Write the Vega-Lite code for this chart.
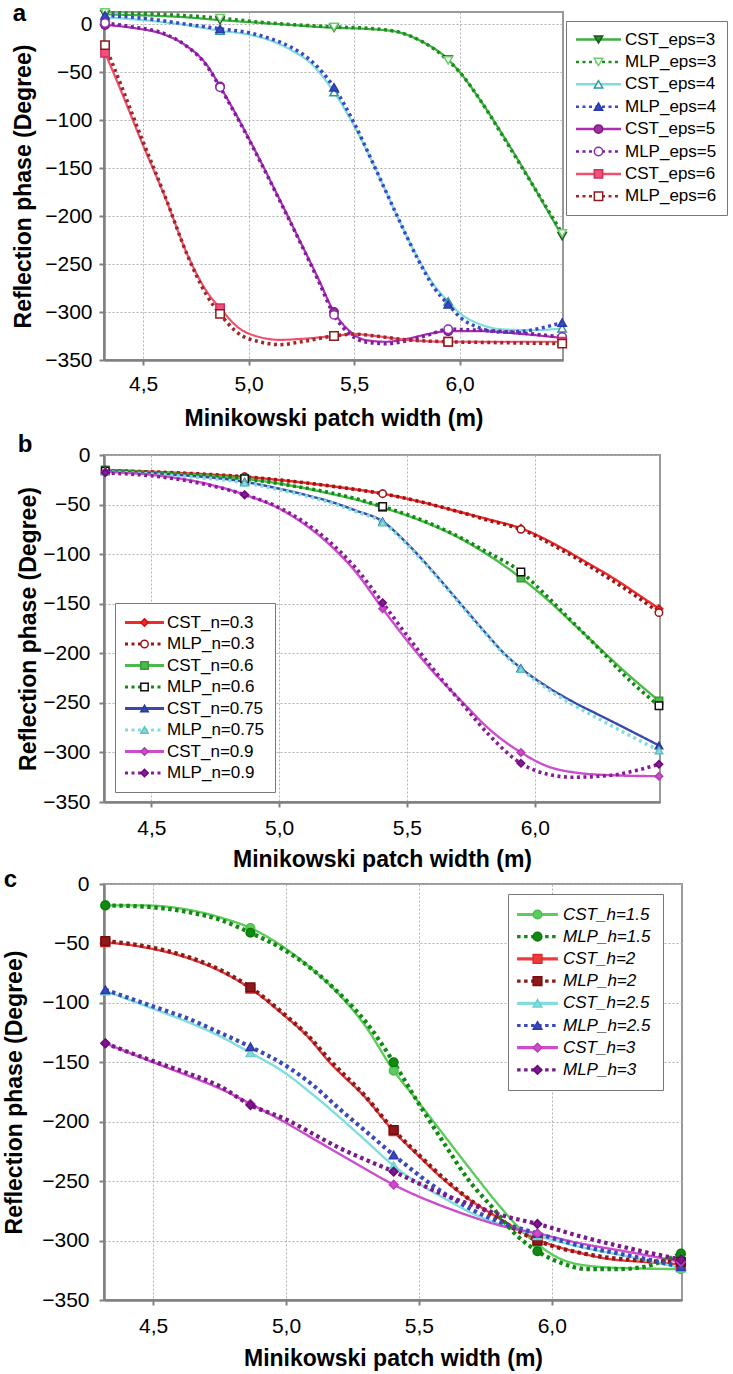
{
  "$schema": "https://vega.github.io/schema/vega-lite/v6.json",
  "padding": {"left": 2, "top": 1, "right": 0, "bottom": 0},
  "background": "white",
  "spacing": 1,
  "resolve": {"scale": {"color": "independent", "strokeDash": "independent", "shape": "independent", "fill": "independent", "stroke": "independent"}},
  "config": {
    "font": "Liberation Sans",
    "view": {"stroke": "#999", "strokeWidth": 2},
    "axis": {"labelFont": "Liberation Sans", "labelFontSize": 21, "labelColor": "#000", "titleFont": "Liberation Sans", "titleFontSize": 23, "titleFontWeight": "bold", "titleColor": "#000", "domainColor": "#808080", "domainWidth": 2.5, "tickColor": "#808080", "tickWidth": 2, "tickSize": 5, "gridColor": "#b0b0b0", "gridDash": [2, 2], "gridWidth": 1, "labelFlush": false, "labelOverlap": false, "labelBound": false},
    "legend": {"labelFont": "Liberation Sans", "labelColor": "#000"},
    "title": {"font": "Liberation Sans", "fontSize": 24, "fontWeight": "bold", "color": "#000"}
  },
  "datasets": {
    "A": [
      {"s":"CST_eps=3","x":4.32,"y":10,"m":1},{"s":"CST_eps=3","x":4.5,"y":9,"m":0},{"s":"CST_eps=3","x":4.7,"y":7,"m":0},{"s":"CST_eps=3","x":4.865,"y":4,"m":1},{"s":"CST_eps=3","x":5.0,"y":2,"m":0},{"s":"CST_eps=3","x":5.2,"y":-1,"m":0},{"s":"CST_eps=3","x":5.405,"y":-4,"m":1},{"s":"CST_eps=3","x":5.55,"y":-5,"m":0},{"s":"CST_eps=3","x":5.7,"y":-8,"m":0},{"s":"CST_eps=3","x":5.81,"y":-17,"m":0},{"s":"CST_eps=3","x":5.946,"y":-37,"m":1},{"s":"CST_eps=3","x":6.0,"y":-50,"m":0},{"s":"CST_eps=3","x":6.1,"y":-80,"m":0},{"s":"CST_eps=3","x":6.2,"y":-114,"m":0},{"s":"CST_eps=3","x":6.3,"y":-150,"m":0},{"s":"CST_eps=3","x":6.4,"y":-188,"m":0},{"s":"CST_eps=3","x":6.486,"y":-221,"m":1},
      {"s":"MLP_eps=3","x":4.32,"y":12,"m":1},{"s":"MLP_eps=3","x":4.6,"y":10,"m":0},{"s":"MLP_eps=3","x":4.865,"y":6,"m":1},{"s":"MLP_eps=3","x":5.1,"y":1,"m":0},{"s":"MLP_eps=3","x":5.405,"y":-3,"m":1},{"s":"MLP_eps=3","x":5.6,"y":-5,"m":0},{"s":"MLP_eps=3","x":5.72,"y":-9,"m":0},{"s":"MLP_eps=3","x":5.82,"y":-18,"m":0},{"s":"MLP_eps=3","x":5.946,"y":-38,"m":1},{"s":"MLP_eps=3","x":6.0,"y":-50,"m":0},{"s":"MLP_eps=3","x":6.1,"y":-80,"m":0},{"s":"MLP_eps=3","x":6.2,"y":-115,"m":0},{"s":"MLP_eps=3","x":6.3,"y":-151,"m":0},{"s":"MLP_eps=3","x":6.4,"y":-187,"m":0},{"s":"MLP_eps=3","x":6.486,"y":-218,"m":1},
      {"s":"CST_eps=4","x":4.32,"y":7,"m":1},{"s":"CST_eps=4","x":4.5,"y":4,"m":0},{"s":"CST_eps=4","x":4.7,"y":-1,"m":0},{"s":"CST_eps=4","x":4.865,"y":-7,"m":1},{"s":"CST_eps=4","x":5.0,"y":-11,"m":0},{"s":"CST_eps=4","x":5.1,"y":-17,"m":0},{"s":"CST_eps=4","x":5.2,"y":-27,"m":0},{"s":"CST_eps=4","x":5.3,"y":-42,"m":0},{"s":"CST_eps=4","x":5.405,"y":-71,"m":1},{"s":"CST_eps=4","x":5.5,"y":-106,"m":0},{"s":"CST_eps=4","x":5.6,"y":-150,"m":0},{"s":"CST_eps=4","x":5.7,"y":-198,"m":0},{"s":"CST_eps=4","x":5.8,"y":-243,"m":0},{"s":"CST_eps=4","x":5.88,"y":-272,"m":0},{"s":"CST_eps=4","x":5.946,"y":-289,"m":1},{"s":"CST_eps=4","x":6.0,"y":-301,"m":0},{"s":"CST_eps=4","x":6.1,"y":-313,"m":0},{"s":"CST_eps=4","x":6.2,"y":-318,"m":0},{"s":"CST_eps=4","x":6.35,"y":-319,"m":0},{"s":"CST_eps=4","x":6.486,"y":-317,"m":1},
      {"s":"MLP_eps=4","x":4.32,"y":9,"m":1},{"s":"MLP_eps=4","x":4.5,"y":6,"m":0},{"s":"MLP_eps=4","x":4.7,"y":0,"m":0},{"s":"MLP_eps=4","x":4.865,"y":-5,"m":1},{"s":"MLP_eps=4","x":5.0,"y":-9,"m":0},{"s":"MLP_eps=4","x":5.1,"y":-15,"m":0},{"s":"MLP_eps=4","x":5.2,"y":-24,"m":0},{"s":"MLP_eps=4","x":5.3,"y":-39,"m":0},{"s":"MLP_eps=4","x":5.405,"y":-66,"m":1},{"s":"MLP_eps=4","x":5.5,"y":-103,"m":0},{"s":"MLP_eps=4","x":5.6,"y":-150,"m":0},{"s":"MLP_eps=4","x":5.7,"y":-198,"m":0},{"s":"MLP_eps=4","x":5.8,"y":-244,"m":0},{"s":"MLP_eps=4","x":5.88,"y":-275,"m":0},{"s":"MLP_eps=4","x":5.946,"y":-292,"m":1},{"s":"MLP_eps=4","x":6.0,"y":-305,"m":0},{"s":"MLP_eps=4","x":6.1,"y":-317,"m":0},{"s":"MLP_eps=4","x":6.2,"y":-321,"m":0},{"s":"MLP_eps=4","x":6.3,"y":-320,"m":0},{"s":"MLP_eps=4","x":6.4,"y":-316,"m":0},{"s":"MLP_eps=4","x":6.486,"y":-311,"m":1},
      {"s":"CST_eps=5","x":4.32,"y":-1,"m":1},{"s":"CST_eps=5","x":4.45,"y":-4,"m":0},{"s":"CST_eps=5","x":4.6,"y":-11,"m":0},{"s":"CST_eps=5","x":4.7,"y":-22,"m":0},{"s":"CST_eps=5","x":4.8,"y":-42,"m":0},{"s":"CST_eps=5","x":4.865,"y":-65,"m":1},{"s":"CST_eps=5","x":4.95,"y":-98,"m":0},{"s":"CST_eps=5","x":5.05,"y":-140,"m":0},{"s":"CST_eps=5","x":5.15,"y":-184,"m":0},{"s":"CST_eps=5","x":5.25,"y":-229,"m":0},{"s":"CST_eps=5","x":5.33,"y":-265,"m":0},{"s":"CST_eps=5","x":5.405,"y":-300,"m":1},{"s":"CST_eps=5","x":5.48,"y":-320,"m":0},{"s":"CST_eps=5","x":5.55,"y":-329,"m":0},{"s":"CST_eps=5","x":5.65,"y":-331,"m":0},{"s":"CST_eps=5","x":5.75,"y":-328,"m":0},{"s":"CST_eps=5","x":5.85,"y":-323,"m":0},{"s":"CST_eps=5","x":5.946,"y":-320,"m":1},{"s":"CST_eps=5","x":6.1,"y":-320,"m":0},{"s":"CST_eps=5","x":6.3,"y":-323,"m":0},{"s":"CST_eps=5","x":6.486,"y":-327,"m":1},
      {"s":"MLP_eps=5","x":4.32,"y":1,"m":1},{"s":"MLP_eps=5","x":4.45,"y":-3,"m":0},{"s":"MLP_eps=5","x":4.6,"y":-10,"m":0},{"s":"MLP_eps=5","x":4.7,"y":-22,"m":0},{"s":"MLP_eps=5","x":4.8,"y":-43,"m":0},{"s":"MLP_eps=5","x":4.865,"y":-66,"m":1},{"s":"MLP_eps=5","x":4.95,"y":-99,"m":0},{"s":"MLP_eps=5","x":5.05,"y":-141,"m":0},{"s":"MLP_eps=5","x":5.15,"y":-185,"m":0},{"s":"MLP_eps=5","x":5.25,"y":-230,"m":0},{"s":"MLP_eps=5","x":5.33,"y":-267,"m":0},{"s":"MLP_eps=5","x":5.405,"y":-303,"m":1},{"s":"MLP_eps=5","x":5.48,"y":-323,"m":0},{"s":"MLP_eps=5","x":5.55,"y":-331,"m":0},{"s":"MLP_eps=5","x":5.65,"y":-333,"m":0},{"s":"MLP_eps=5","x":5.75,"y":-330,"m":0},{"s":"MLP_eps=5","x":5.85,"y":-324,"m":0},{"s":"MLP_eps=5","x":5.946,"y":-318,"m":1},{"s":"MLP_eps=5","x":6.1,"y":-319,"m":0},{"s":"MLP_eps=5","x":6.3,"y":-322,"m":0},{"s":"MLP_eps=5","x":6.486,"y":-326,"m":1},
      {"s":"CST_eps=6","x":4.32,"y":-30,"m":1},{"s":"CST_eps=6","x":4.4,"y":-72,"m":0},{"s":"CST_eps=6","x":4.49,"y":-121,"m":0},{"s":"CST_eps=6","x":4.6,"y":-178,"m":0},{"s":"CST_eps=6","x":4.72,"y":-245,"m":0},{"s":"CST_eps=6","x":4.8,"y":-278,"m":0},{"s":"CST_eps=6","x":4.865,"y":-296,"m":1},{"s":"CST_eps=6","x":4.95,"y":-316,"m":0},{"s":"CST_eps=6","x":5.05,"y":-326,"m":0},{"s":"CST_eps=6","x":5.15,"y":-329,"m":0},{"s":"CST_eps=6","x":5.25,"y":-328,"m":0},{"s":"CST_eps=6","x":5.405,"y":-325,"m":1},{"s":"CST_eps=6","x":5.5,"y":-323,"m":0},{"s":"CST_eps=6","x":5.6,"y":-325,"m":0},{"s":"CST_eps=6","x":5.75,"y":-329,"m":0},{"s":"CST_eps=6","x":5.946,"y":-331,"m":1},{"s":"CST_eps=6","x":6.2,"y":-331,"m":0},{"s":"CST_eps=6","x":6.486,"y":-331,"m":1},
      {"s":"MLP_eps=6","x":4.32,"y":-22,"m":1},{"s":"MLP_eps=6","x":4.4,"y":-66,"m":0},{"s":"MLP_eps=6","x":4.49,"y":-117,"m":0},{"s":"MLP_eps=6","x":4.6,"y":-177,"m":0},{"s":"MLP_eps=6","x":4.72,"y":-246,"m":0},{"s":"MLP_eps=6","x":4.8,"y":-282,"m":0},{"s":"MLP_eps=6","x":4.865,"y":-302,"m":1},{"s":"MLP_eps=6","x":4.95,"y":-322,"m":0},{"s":"MLP_eps=6","x":5.05,"y":-331,"m":0},{"s":"MLP_eps=6","x":5.15,"y":-334,"m":0},{"s":"MLP_eps=6","x":5.25,"y":-331,"m":0},{"s":"MLP_eps=6","x":5.405,"y":-325,"m":1},{"s":"MLP_eps=6","x":5.5,"y":-323,"m":0},{"s":"MLP_eps=6","x":5.6,"y":-325,"m":0},{"s":"MLP_eps=6","x":5.75,"y":-329,"m":0},{"s":"MLP_eps=6","x":5.946,"y":-331,"m":1},{"s":"MLP_eps=6","x":6.2,"y":-332,"m":0},{"s":"MLP_eps=6","x":6.486,"y":-333,"m":1}
    ],
    "B": [
      {"s":"CST_n=0.3","x":4.32,"y":-15,"m":1},{"s":"CST_n=0.3","x":4.6,"y":-18,"m":0},{"s":"CST_n=0.3","x":4.865,"y":-22,"m":1},{"s":"CST_n=0.3","x":5.1,"y":-28,"m":0},{"s":"CST_n=0.3","x":5.25,"y":-33,"m":0},{"s":"CST_n=0.3","x":5.405,"y":-39,"m":1},{"s":"CST_n=0.3","x":5.55,"y":-47,"m":0},{"s":"CST_n=0.3","x":5.7,"y":-57,"m":0},{"s":"CST_n=0.3","x":5.82,"y":-65,"m":0},{"s":"CST_n=0.3","x":5.946,"y":-74,"m":1},{"s":"CST_n=0.3","x":6.1,"y":-93,"m":0},{"s":"CST_n=0.3","x":6.2,"y":-108,"m":0},{"s":"CST_n=0.3","x":6.3,"y":-123,"m":0},{"s":"CST_n=0.3","x":6.4,"y":-140,"m":0},{"s":"CST_n=0.3","x":6.486,"y":-155,"m":1},
      {"s":"MLP_n=0.3","x":4.32,"y":-16,"m":1},{"s":"MLP_n=0.3","x":4.6,"y":-18,"m":0},{"s":"MLP_n=0.3","x":4.865,"y":-22,"m":1},{"s":"MLP_n=0.3","x":5.1,"y":-28,"m":0},{"s":"MLP_n=0.3","x":5.25,"y":-33,"m":0},{"s":"MLP_n=0.3","x":5.405,"y":-39,"m":1},{"s":"MLP_n=0.3","x":5.55,"y":-47,"m":0},{"s":"MLP_n=0.3","x":5.7,"y":-57,"m":0},{"s":"MLP_n=0.3","x":5.82,"y":-66,"m":0},{"s":"MLP_n=0.3","x":5.946,"y":-75,"m":1},{"s":"MLP_n=0.3","x":6.1,"y":-95,"m":0},{"s":"MLP_n=0.3","x":6.2,"y":-110,"m":0},{"s":"MLP_n=0.3","x":6.3,"y":-126,"m":0},{"s":"MLP_n=0.3","x":6.4,"y":-143,"m":0},{"s":"MLP_n=0.3","x":6.486,"y":-159,"m":1},
      {"s":"CST_n=0.6","x":4.32,"y":-15,"m":1},{"s":"CST_n=0.6","x":4.6,"y":-19,"m":0},{"s":"CST_n=0.6","x":4.865,"y":-24,"m":1},{"s":"CST_n=0.6","x":5.05,"y":-31,"m":0},{"s":"CST_n=0.6","x":5.2,"y":-39,"m":0},{"s":"CST_n=0.6","x":5.3,"y":-45,"m":0},{"s":"CST_n=0.6","x":5.405,"y":-53,"m":1},{"s":"CST_n=0.6","x":5.5,"y":-61,"m":0},{"s":"CST_n=0.6","x":5.6,"y":-71,"m":0},{"s":"CST_n=0.6","x":5.7,"y":-83,"m":0},{"s":"CST_n=0.6","x":5.8,"y":-98,"m":0},{"s":"CST_n=0.6","x":5.946,"y":-124,"m":1},{"s":"CST_n=0.6","x":6.05,"y":-146,"m":0},{"s":"CST_n=0.6","x":6.15,"y":-170,"m":0},{"s":"CST_n=0.6","x":6.25,"y":-194,"m":0},{"s":"CST_n=0.6","x":6.35,"y":-218,"m":0},{"s":"CST_n=0.6","x":6.486,"y":-248,"m":1},
      {"s":"MLP_n=0.6","x":4.32,"y":-16,"m":1},{"s":"MLP_n=0.6","x":4.6,"y":-19,"m":0},{"s":"MLP_n=0.6","x":4.865,"y":-24,"m":1},{"s":"MLP_n=0.6","x":5.05,"y":-31,"m":0},{"s":"MLP_n=0.6","x":5.2,"y":-38,"m":0},{"s":"MLP_n=0.6","x":5.3,"y":-44,"m":0},{"s":"MLP_n=0.6","x":5.405,"y":-52,"m":1},{"s":"MLP_n=0.6","x":5.5,"y":-60,"m":0},{"s":"MLP_n=0.6","x":5.6,"y":-70,"m":0},{"s":"MLP_n=0.6","x":5.7,"y":-82,"m":0},{"s":"MLP_n=0.6","x":5.8,"y":-96,"m":0},{"s":"MLP_n=0.6","x":5.946,"y":-118,"m":1},{"s":"MLP_n=0.6","x":6.05,"y":-143,"m":0},{"s":"MLP_n=0.6","x":6.15,"y":-169,"m":0},{"s":"MLP_n=0.6","x":6.25,"y":-195,"m":0},{"s":"MLP_n=0.6","x":6.35,"y":-222,"m":0},{"s":"MLP_n=0.6","x":6.486,"y":-253,"m":1},
      {"s":"CST_n=0.75","x":4.32,"y":-16,"m":1},{"s":"CST_n=0.75","x":4.6,"y":-20,"m":0},{"s":"CST_n=0.75","x":4.865,"y":-27,"m":1},{"s":"CST_n=0.75","x":5.0,"y":-34,"m":0},{"s":"CST_n=0.75","x":5.1,"y":-40,"m":0},{"s":"CST_n=0.75","x":5.2,"y":-47,"m":0},{"s":"CST_n=0.75","x":5.3,"y":-56,"m":0},{"s":"CST_n=0.75","x":5.405,"y":-67,"m":1},{"s":"CST_n=0.75","x":5.5,"y":-89,"m":0},{"s":"CST_n=0.75","x":5.6,"y":-117,"m":0},{"s":"CST_n=0.75","x":5.7,"y":-147,"m":0},{"s":"CST_n=0.75","x":5.8,"y":-177,"m":0},{"s":"CST_n=0.75","x":5.88,"y":-200,"m":0},{"s":"CST_n=0.75","x":5.946,"y":-215,"m":1},{"s":"CST_n=0.75","x":6.05,"y":-234,"m":0},{"s":"CST_n=0.75","x":6.15,"y":-249,"m":0},{"s":"CST_n=0.75","x":6.25,"y":-262,"m":0},{"s":"CST_n=0.75","x":6.35,"y":-275,"m":0},{"s":"CST_n=0.75","x":6.486,"y":-293,"m":1},
      {"s":"MLP_n=0.75","x":4.32,"y":-17,"m":1},{"s":"MLP_n=0.75","x":4.6,"y":-21,"m":0},{"s":"MLP_n=0.75","x":4.865,"y":-28,"m":1},{"s":"MLP_n=0.75","x":5.0,"y":-35,"m":0},{"s":"MLP_n=0.75","x":5.1,"y":-41,"m":0},{"s":"MLP_n=0.75","x":5.2,"y":-48,"m":0},{"s":"MLP_n=0.75","x":5.3,"y":-57,"m":0},{"s":"MLP_n=0.75","x":5.405,"y":-68,"m":1},{"s":"MLP_n=0.75","x":5.5,"y":-90,"m":0},{"s":"MLP_n=0.75","x":5.6,"y":-118,"m":0},{"s":"MLP_n=0.75","x":5.7,"y":-148,"m":0},{"s":"MLP_n=0.75","x":5.8,"y":-178,"m":0},{"s":"MLP_n=0.75","x":5.88,"y":-201,"m":0},{"s":"MLP_n=0.75","x":5.946,"y":-216,"m":1},{"s":"MLP_n=0.75","x":6.05,"y":-236,"m":0},{"s":"MLP_n=0.75","x":6.15,"y":-252,"m":0},{"s":"MLP_n=0.75","x":6.25,"y":-266,"m":0},{"s":"MLP_n=0.75","x":6.35,"y":-280,"m":0},{"s":"MLP_n=0.75","x":6.486,"y":-298,"m":1},
      {"s":"CST_n=0.9","x":4.32,"y":-17,"m":1},{"s":"CST_n=0.9","x":4.5,"y":-20,"m":0},{"s":"CST_n=0.9","x":4.7,"y":-28,"m":0},{"s":"CST_n=0.9","x":4.865,"y":-40,"m":1},{"s":"CST_n=0.9","x":5.0,"y":-54,"m":0},{"s":"CST_n=0.9","x":5.1,"y":-70,"m":0},{"s":"CST_n=0.9","x":5.2,"y":-91,"m":0},{"s":"CST_n=0.9","x":5.3,"y":-118,"m":0},{"s":"CST_n=0.9","x":5.405,"y":-155,"m":1},{"s":"CST_n=0.9","x":5.5,"y":-187,"m":0},{"s":"CST_n=0.9","x":5.6,"y":-218,"m":0},{"s":"CST_n=0.9","x":5.72,"y":-250,"m":0},{"s":"CST_n=0.9","x":5.82,"y":-276,"m":0},{"s":"CST_n=0.9","x":5.946,"y":-300,"m":1},{"s":"CST_n=0.9","x":6.05,"y":-314,"m":0},{"s":"CST_n=0.9","x":6.15,"y":-320,"m":0},{"s":"CST_n=0.9","x":6.3,"y":-323,"m":0},{"s":"CST_n=0.9","x":6.486,"y":-324,"m":1},
      {"s":"MLP_n=0.9","x":4.32,"y":-18,"m":1},{"s":"MLP_n=0.9","x":4.5,"y":-21,"m":0},{"s":"MLP_n=0.9","x":4.7,"y":-29,"m":0},{"s":"MLP_n=0.9","x":4.865,"y":-40,"m":1},{"s":"MLP_n=0.9","x":5.0,"y":-53,"m":0},{"s":"MLP_n=0.9","x":5.1,"y":-68,"m":0},{"s":"MLP_n=0.9","x":5.2,"y":-88,"m":0},{"s":"MLP_n=0.9","x":5.3,"y":-114,"m":0},{"s":"MLP_n=0.9","x":5.405,"y":-149,"m":1},{"s":"MLP_n=0.9","x":5.5,"y":-182,"m":0},{"s":"MLP_n=0.9","x":5.6,"y":-215,"m":0},{"s":"MLP_n=0.9","x":5.72,"y":-252,"m":0},{"s":"MLP_n=0.9","x":5.82,"y":-282,"m":0},{"s":"MLP_n=0.9","x":5.946,"y":-311,"m":1},{"s":"MLP_n=0.9","x":6.05,"y":-322,"m":0},{"s":"MLP_n=0.9","x":6.15,"y":-325,"m":0},{"s":"MLP_n=0.9","x":6.3,"y":-323,"m":0},{"s":"MLP_n=0.9","x":6.4,"y":-318,"m":0},{"s":"MLP_n=0.9","x":6.486,"y":-312,"m":1}
    ],
    "C": [
      {"s":"CST_h=1.5","x":4.32,"y":-18,"m":1},{"s":"CST_h=1.5","x":4.46,"y":-18,"m":0},{"s":"CST_h=1.5","x":4.64,"y":-22,"m":0},{"s":"CST_h=1.5","x":4.75,"y":-28,"m":0},{"s":"CST_h=1.5","x":4.866,"y":-37,"m":1},{"s":"CST_h=1.5","x":4.99,"y":-53,"m":0},{"s":"CST_h=1.5","x":5.1,"y":-72,"m":0},{"s":"CST_h=1.5","x":5.2,"y":-93,"m":0},{"s":"CST_h=1.5","x":5.3,"y":-120,"m":0},{"s":"CST_h=1.5","x":5.405,"y":-157,"m":1},{"s":"CST_h=1.5","x":5.5,"y":-184,"m":0},{"s":"CST_h=1.5","x":5.6,"y":-213,"m":0},{"s":"CST_h=1.5","x":5.7,"y":-242,"m":0},{"s":"CST_h=1.5","x":5.8,"y":-270,"m":0},{"s":"CST_h=1.5","x":5.88,"y":-290,"m":0},{"s":"CST_h=1.5","x":5.946,"y":-303,"m":1},{"s":"CST_h=1.5","x":6.02,"y":-314,"m":0},{"s":"CST_h=1.5","x":6.1,"y":-320,"m":0},{"s":"CST_h=1.5","x":6.25,"y":-323,"m":0},{"s":"CST_h=1.5","x":6.486,"y":-324,"m":1},
      {"s":"MLP_h=1.5","x":4.32,"y":-18,"m":1},{"s":"MLP_h=1.5","x":4.46,"y":-19,"m":0},{"s":"MLP_h=1.5","x":4.64,"y":-24,"m":0},{"s":"MLP_h=1.5","x":4.75,"y":-30,"m":0},{"s":"MLP_h=1.5","x":4.866,"y":-41,"m":1},{"s":"MLP_h=1.5","x":4.99,"y":-55,"m":0},{"s":"MLP_h=1.5","x":5.1,"y":-72,"m":0},{"s":"MLP_h=1.5","x":5.2,"y":-92,"m":0},{"s":"MLP_h=1.5","x":5.3,"y":-116,"m":0},{"s":"MLP_h=1.5","x":5.405,"y":-150,"m":1},{"s":"MLP_h=1.5","x":5.5,"y":-185,"m":0},{"s":"MLP_h=1.5","x":5.6,"y":-220,"m":0},{"s":"MLP_h=1.5","x":5.69,"y":-250,"m":0},{"s":"MLP_h=1.5","x":5.78,"y":-273,"m":0},{"s":"MLP_h=1.5","x":5.865,"y":-295,"m":0},{"s":"MLP_h=1.5","x":5.946,"y":-309,"m":1},{"s":"MLP_h=1.5","x":6.05,"y":-320,"m":0},{"s":"MLP_h=1.5","x":6.13,"y":-324,"m":0},{"s":"MLP_h=1.5","x":6.25,"y":-324,"m":0},{"s":"MLP_h=1.5","x":6.35,"y":-322,"m":0},{"s":"MLP_h=1.5","x":6.42,"y":-317,"m":0},{"s":"MLP_h=1.5","x":6.486,"y":-311,"m":1},
      {"s":"CST_h=2","x":4.32,"y":-49,"m":1},{"s":"CST_h=2","x":4.46,"y":-53,"m":0},{"s":"CST_h=2","x":4.64,"y":-63,"m":0},{"s":"CST_h=2","x":4.75,"y":-73,"m":0},{"s":"CST_h=2","x":4.866,"y":-88,"m":1},{"s":"CST_h=2","x":4.99,"y":-110,"m":0},{"s":"CST_h=2","x":5.08,"y":-128,"m":0},{"s":"CST_h=2","x":5.164,"y":-150,"m":0},{"s":"CST_h=2","x":5.3,"y":-180,"m":0},{"s":"CST_h=2","x":5.405,"y":-208,"m":1},{"s":"CST_h=2","x":5.5,"y":-229,"m":0},{"s":"CST_h=2","x":5.6,"y":-250,"m":0},{"s":"CST_h=2","x":5.7,"y":-267,"m":0},{"s":"CST_h=2","x":5.8,"y":-281,"m":0},{"s":"CST_h=2","x":5.946,"y":-299,"m":1},{"s":"CST_h=2","x":6.1,"y":-310,"m":0},{"s":"CST_h=2","x":6.2,"y":-315,"m":0},{"s":"CST_h=2","x":6.35,"y":-318,"m":0},{"s":"CST_h=2","x":6.486,"y":-320,"m":1},
      {"s":"MLP_h=2","x":4.32,"y":-48,"m":1},{"s":"MLP_h=2","x":4.46,"y":-52,"m":0},{"s":"MLP_h=2","x":4.64,"y":-62,"m":0},{"s":"MLP_h=2","x":4.75,"y":-72,"m":0},{"s":"MLP_h=2","x":4.866,"y":-87,"m":1},{"s":"MLP_h=2","x":4.99,"y":-109,"m":0},{"s":"MLP_h=2","x":5.08,"y":-127,"m":0},{"s":"MLP_h=2","x":5.164,"y":-148,"m":0},{"s":"MLP_h=2","x":5.3,"y":-179,"m":0},{"s":"MLP_h=2","x":5.405,"y":-207,"m":1},{"s":"MLP_h=2","x":5.5,"y":-228,"m":0},{"s":"MLP_h=2","x":5.6,"y":-249,"m":0},{"s":"MLP_h=2","x":5.7,"y":-267,"m":0},{"s":"MLP_h=2","x":5.8,"y":-282,"m":0},{"s":"MLP_h=2","x":5.946,"y":-300,"m":1},{"s":"MLP_h=2","x":6.1,"y":-310,"m":0},{"s":"MLP_h=2","x":6.2,"y":-314,"m":0},{"s":"MLP_h=2","x":6.35,"y":-317,"m":0},{"s":"MLP_h=2","x":6.486,"y":-318,"m":1},
      {"s":"CST_h=2.5","x":4.32,"y":-90,"m":1},{"s":"CST_h=2.5","x":4.5,"y":-105,"m":0},{"s":"CST_h=2.5","x":4.64,"y":-117,"m":0},{"s":"CST_h=2.5","x":4.75,"y":-128,"m":0},{"s":"CST_h=2.5","x":4.866,"y":-142,"m":1},{"s":"CST_h=2.5","x":4.99,"y":-158,"m":0},{"s":"CST_h=2.5","x":5.1,"y":-177,"m":0},{"s":"CST_h=2.5","x":5.2,"y":-196,"m":0},{"s":"CST_h=2.5","x":5.3,"y":-216,"m":0},{"s":"CST_h=2.5","x":5.405,"y":-237,"m":1},{"s":"CST_h=2.5","x":5.5,"y":-252,"m":0},{"s":"CST_h=2.5","x":5.6,"y":-265,"m":0},{"s":"CST_h=2.5","x":5.7,"y":-277,"m":0},{"s":"CST_h=2.5","x":5.8,"y":-286,"m":0},{"s":"CST_h=2.5","x":5.946,"y":-296,"m":1},{"s":"CST_h=2.5","x":6.1,"y":-305,"m":0},{"s":"CST_h=2.5","x":6.3,"y":-314,"m":0},{"s":"CST_h=2.5","x":6.486,"y":-323,"m":1},
      {"s":"MLP_h=2.5","x":4.32,"y":-89,"m":1},{"s":"MLP_h=2.5","x":4.5,"y":-103,"m":0},{"s":"MLP_h=2.5","x":4.64,"y":-114,"m":0},{"s":"MLP_h=2.5","x":4.75,"y":-125,"m":0},{"s":"MLP_h=2.5","x":4.866,"y":-137,"m":1},{"s":"MLP_h=2.5","x":5.0,"y":-153,"m":0},{"s":"MLP_h=2.5","x":5.1,"y":-169,"m":0},{"s":"MLP_h=2.5","x":5.2,"y":-189,"m":0},{"s":"MLP_h=2.5","x":5.3,"y":-208,"m":0},{"s":"MLP_h=2.5","x":5.405,"y":-228,"m":1},{"s":"MLP_h=2.5","x":5.5,"y":-245,"m":0},{"s":"MLP_h=2.5","x":5.6,"y":-261,"m":0},{"s":"MLP_h=2.5","x":5.7,"y":-274,"m":0},{"s":"MLP_h=2.5","x":5.8,"y":-284,"m":0},{"s":"MLP_h=2.5","x":5.946,"y":-294,"m":1},{"s":"MLP_h=2.5","x":6.1,"y":-304,"m":0},{"s":"MLP_h=2.5","x":6.3,"y":-313,"m":0},{"s":"MLP_h=2.5","x":6.486,"y":-322,"m":1},
      {"s":"CST_h=3","x":4.32,"y":-134,"m":1},{"s":"CST_h=3","x":4.5,"y":-150,"m":0},{"s":"CST_h=3","x":4.64,"y":-162,"m":0},{"s":"CST_h=3","x":4.75,"y":-172,"m":0},{"s":"CST_h=3","x":4.866,"y":-185,"m":1},{"s":"CST_h=3","x":5.0,"y":-201,"m":0},{"s":"CST_h=3","x":5.1,"y":-214,"m":0},{"s":"CST_h=3","x":5.2,"y":-227,"m":0},{"s":"CST_h=3","x":5.3,"y":-240,"m":0},{"s":"CST_h=3","x":5.405,"y":-253,"m":1},{"s":"CST_h=3","x":5.5,"y":-263,"m":0},{"s":"CST_h=3","x":5.6,"y":-272,"m":0},{"s":"CST_h=3","x":5.7,"y":-280,"m":0},{"s":"CST_h=3","x":5.8,"y":-287,"m":0},{"s":"CST_h=3","x":5.946,"y":-294,"m":1},{"s":"CST_h=3","x":6.1,"y":-302,"m":0},{"s":"CST_h=3","x":6.3,"y":-310,"m":0},{"s":"CST_h=3","x":6.486,"y":-318,"m":1},
      {"s":"MLP_h=3","x":4.32,"y":-134,"m":1},{"s":"MLP_h=3","x":4.5,"y":-149,"m":0},{"s":"MLP_h=3","x":4.64,"y":-160,"m":0},{"s":"MLP_h=3","x":4.75,"y":-170,"m":0},{"s":"MLP_h=3","x":4.866,"y":-186,"m":1},{"s":"MLP_h=3","x":5.0,"y":-198,"m":0},{"s":"MLP_h=3","x":5.1,"y":-210,"m":0},{"s":"MLP_h=3","x":5.2,"y":-222,"m":0},{"s":"MLP_h=3","x":5.3,"y":-232,"m":0},{"s":"MLP_h=3","x":5.405,"y":-242,"m":1},{"s":"MLP_h=3","x":5.5,"y":-252,"m":0},{"s":"MLP_h=3","x":5.6,"y":-262,"m":0},{"s":"MLP_h=3","x":5.7,"y":-270,"m":0},{"s":"MLP_h=3","x":5.8,"y":-278,"m":0},{"s":"MLP_h=3","x":5.946,"y":-286,"m":1},{"s":"MLP_h=3","x":6.1,"y":-296,"m":0},{"s":"MLP_h=3","x":6.3,"y":-307,"m":0},{"s":"MLP_h=3","x":6.486,"y":-316,"m":1}
    ]
  },
  "vconcat": [
    {
      "width": 459, "height": 348,
      "title": {"text": "a", "anchor": "start", "frame": "bounds", "baseline": "alphabetic", "offset": -40, "dx": 0, "dy": 0},
      "data": {"name": "A"},
      "encoding": {
        "x": {"field": "x", "type": "quantitative", "scale": {"domain": [4.315, 6.49], "nice": false, "zero": false}, "axis": {"title": "Minikowski patch width (m)", "values": [4.5, 5, 5.5, 6], "labelExpr": "replace(format(datum.value, '.1f'), '.', ',')", "labelPadding": 8, "titlePadding": 13}},
        "y": {"field": "y", "type": "quantitative", "scale": {"domain": [-350, 12.5], "nice": false, "zero": false}, "axis": {"title": "Reflection phase (Degree)", "values": [0, -50, -100, -150, -200, -250, -300, -350], "labelPadding": 7, "titlePadding": 9}}
      },
      "layer": [
        {"transform": [{"filter": "indexof(datum.s, 'CST') == 0"}], "mark": {"type": "line", "interpolate": "monotone", "strokeWidth": 2.2},
         "encoding": {
           "color": {"field": "s", "type": "nominal", "scale": {"domain": ["CST_eps=3","MLP_eps=3","CST_eps=4","MLP_eps=4","CST_eps=5","MLP_eps=5","CST_eps=6","MLP_eps=6","~"], "range": ["#3cb043","#1e8c1e","#7fdcdc","#3a48c8","#b02cb0","#7a1f9e","#f0506e","#a02828","#000000"]},
             "legend": {"values": ["CST_eps=3","MLP_eps=3","CST_eps=4","MLP_eps=4","CST_eps=5","MLP_eps=5","CST_eps=6","MLP_eps=6"], "orient": "none", "legendX": 462, "legendY": 9, "title": null, "symbolType": "M-7.5,0H7.5", "symbolSize": 36, "symbolStrokeWidth": 2.5, "symbolOffset": 14, "labelOffset": 18, "labelFontSize": 17, "rowPadding": 4.4, "padding": 10, "strokeColor": "#777", "fillColor": "white"}},
           "strokeDash": {"field": "s", "type": "nominal", "scale": {"domain": ["CST_eps=3","MLP_eps=3","CST_eps=4","MLP_eps=4","CST_eps=5","MLP_eps=5","CST_eps=6","MLP_eps=6","~"], "range": [[1,0],[3,3.5],[1,0],[3,3.5],[1,0],[3,3.5],[1,0],[3,3.5],[1,0]]},
             "legend": {"values": ["CST_eps=3","MLP_eps=3","CST_eps=4","MLP_eps=4","CST_eps=5","MLP_eps=5","CST_eps=6","MLP_eps=6"], "orient": "none", "legendX": 462, "legendY": 9, "title": null, "symbolType": "M-7.5,0H7.5", "symbolSize": 36, "symbolStrokeWidth": 2.5, "symbolOffset": 14, "labelOffset": 18, "labelFontSize": 17, "rowPadding": 4.4, "padding": 10, "strokeColor": "#777", "fillColor": "white"}}
         }},
        {"transform": [{"filter": "indexof(datum.s, 'MLP') == 0"}], "mark": {"type": "line", "interpolate": "monotone", "strokeWidth": 3.5},
         "encoding": {
           "color": {"field": "s", "type": "nominal"},
           "strokeDash": {"field": "s", "type": "nominal"}
         }},
        {"transform": [{"filter": "datum.m == 1"}], "mark": {"type": "point", "filled": true, "size": 70, "strokeWidth": 1.5, "opacity": 1},
         "encoding": {
           "shape": {"field": "s", "type": "nominal", "scale": {"domain": ["CST_eps=3","MLP_eps=3","CST_eps=4","MLP_eps=4","CST_eps=5","MLP_eps=5","CST_eps=6","MLP_eps=6"], "range": ["triangle-down","triangle-down","triangle-up","triangle-up","circle","circle","square","square"]},
             "legend": {"orient": "none", "legendX": 462, "legendY": 9, "title": null, "symbolSize": 70, "symbolStrokeWidth": 1.5, "symbolOffset": 14, "labelOffset": 18, "labelFontSize": 17, "labelOpacity": 0, "rowPadding": 4.4, "padding": 10}},
           "fill": {"field": "s", "type": "nominal", "scale": {"domain": ["CST_eps=3","MLP_eps=3","CST_eps=4","MLP_eps=4","CST_eps=5","MLP_eps=5","CST_eps=6","MLP_eps=6"], "range": ["#2a8a2a","white","white","#3a48c8","#a030a0","white","#f0507a","white"]},
             "legend": {"orient": "none", "legendX": 462, "legendY": 9, "title": null, "symbolSize": 70, "symbolStrokeWidth": 1.5, "symbolOffset": 14, "labelOffset": 18, "labelFontSize": 17, "labelOpacity": 0, "rowPadding": 4.4, "padding": 10}},
           "stroke": {"field": "s", "type": "nominal", "scale": {"domain": ["CST_eps=3","MLP_eps=3","CST_eps=4","MLP_eps=4","CST_eps=5","MLP_eps=5","CST_eps=6","MLP_eps=6"], "range": ["#1a5a1a","#6fcf6f","#2a9a9a","#2a38a8","#7a1a7a","#8a2aae","#d03060","#8b1a1a"]},
             "legend": {"orient": "none", "legendX": 462, "legendY": 9, "title": null, "symbolSize": 70, "symbolStrokeWidth": 1.5, "symbolOffset": 14, "labelOffset": 18, "labelFontSize": 17, "labelOpacity": 0, "rowPadding": 4.4, "padding": 10}}
         }}
      ]
    },
    {
      "spacing": -5,
      "resolve": {"scale": {"color": "independent", "strokeDash": "independent", "shape": "independent", "fill": "independent", "stroke": "independent"}},
      "vconcat": [
        {
          "width": 556, "height": 347,
          "title": {"text": "b", "anchor": "start", "frame": "bounds", "baseline": "alphabetic", "offset": -32, "dx": 0, "dy": 0},
          "data": {"name": "B"},
          "encoding": {
            "x": {"field": "x", "type": "quantitative", "scale": {"domain": [4.315, 6.49], "nice": false, "zero": false}, "axis": {"title": "Minikowski patch width (m)", "values": [4.5, 5, 5.5, 6], "labelExpr": "replace(format(datum.value, '.1f'), '.', ',')", "labelPadding": 10, "titlePadding": 10}},
            "y": {"field": "y", "type": "quantitative", "scale": {"domain": [-350, 0], "nice": false, "zero": false}, "axis": {"title": "Reflection phase (Degree)", "values": [0, -50, -100, -150, -200, -250, -300, -350], "labelPadding": 9, "titlePadding": 2}}
          },
          "layer": [
            {"transform": [{"filter": "indexof(datum.s, 'CST') == 0"}], "mark": {"type": "line", "interpolate": "monotone", "strokeWidth": 2.4},
             "encoding": {
               "color": {"field": "s", "type": "nominal", "scale": {"domain": ["CST_n=0.3","MLP_n=0.3","CST_n=0.6","MLP_n=0.6","CST_n=0.75","MLP_n=0.75","CST_n=0.9","MLP_n=0.9","~"], "range": ["#ee2a2a","#9e1515","#4cbb4c","#128a12","#3a4aaa","#80dede","#cc4ccc","#8a1a9a","#000000"]},
                 "legend": {"values": ["CST_n=0.3","MLP_n=0.3","CST_n=0.6","MLP_n=0.6","CST_n=0.75","MLP_n=0.75","CST_n=0.9","MLP_n=0.9"], "orient": "none", "legendX": 11, "legendY": 148, "title": null, "symbolType": "M-6.5,0H6.5", "symbolSize": 36, "symbolStrokeWidth": 3, "symbolOffset": 10, "labelOffset": 14, "labelFontSize": 17, "rowPadding": 3.5, "padding": 11, "strokeColor": "#777", "fillColor": "white"}},
               "strokeDash": {"field": "s", "type": "nominal", "scale": {"domain": ["CST_n=0.3","MLP_n=0.3","CST_n=0.6","MLP_n=0.6","CST_n=0.75","MLP_n=0.75","CST_n=0.9","MLP_n=0.9","~"], "range": [[1,0],[3,3.5],[1,0],[3,3.5],[1,0],[3,3.5],[1,0],[3,3.5],[1,0]]},
                 "legend": {"values": ["CST_n=0.3","MLP_n=0.3","CST_n=0.6","MLP_n=0.6","CST_n=0.75","MLP_n=0.75","CST_n=0.9","MLP_n=0.9"], "orient": "none", "legendX": 11, "legendY": 148, "title": null, "symbolType": "M-6.5,0H6.5", "symbolSize": 36, "symbolStrokeWidth": 3, "symbolOffset": 10, "labelOffset": 14, "labelFontSize": 17, "rowPadding": 3.5, "padding": 11, "strokeColor": "#777", "fillColor": "white"}}
             }},
            {"transform": [{"filter": "indexof(datum.s, 'MLP') == 0"}], "mark": {"type": "line", "interpolate": "monotone", "strokeWidth": 3.6},
             "encoding": {
               "color": {"field": "s", "type": "nominal"},
               "strokeDash": {"field": "s", "type": "nominal"}
             }},
            {"transform": [{"filter": "datum.m == 1"}], "mark": {"type": "point", "filled": true, "size": 55, "strokeWidth": 1.5, "opacity": 1},
             "encoding": {
               "shape": {"field": "s", "type": "nominal", "scale": {"domain": ["CST_n=0.3","MLP_n=0.3","CST_n=0.6","MLP_n=0.6","CST_n=0.75","MLP_n=0.75","CST_n=0.9","MLP_n=0.9"], "range": ["diamond","circle","square","square","triangle-up","triangle-up","diamond","diamond"]},
                 "legend": {"orient": "none", "legendX": 11, "legendY": 148, "title": null, "symbolSize": 55, "symbolStrokeWidth": 1.5, "symbolOffset": 10, "labelOffset": 14, "labelFontSize": 17, "labelOpacity": 0, "rowPadding": 3.5, "padding": 11}},
               "fill": {"field": "s", "type": "nominal", "scale": {"domain": ["CST_n=0.3","MLP_n=0.3","CST_n=0.6","MLP_n=0.6","CST_n=0.75","MLP_n=0.75","CST_n=0.9","MLP_n=0.9"], "range": ["#ee2a2a","white","#4cbb4c","white","#3a4aaa","#80dede","#cc4ccc","#8a1a9a"]},
                 "legend": {"orient": "none", "legendX": 11, "legendY": 148, "title": null, "symbolSize": 55, "symbolStrokeWidth": 1.5, "symbolOffset": 10, "labelOffset": 14, "labelFontSize": 17, "labelOpacity": 0, "rowPadding": 3.5, "padding": 11}},
               "stroke": {"field": "s", "type": "nominal", "scale": {"domain": ["CST_n=0.3","MLP_n=0.3","CST_n=0.6","MLP_n=0.6","CST_n=0.75","MLP_n=0.75","CST_n=0.9","MLP_n=0.9"], "range": ["#cc1111","#9e1515","#3a9a3a","#111111","#2a3a9a","#60c0c0","#b03ab0","#6a0a7a"]},
                 "legend": {"orient": "none", "legendX": 11, "legendY": 148, "title": null, "symbolSize": 55, "symbolStrokeWidth": 1.5, "symbolOffset": 10, "labelOffset": 14, "labelFontSize": 17, "labelOpacity": 0, "rowPadding": 3.5, "padding": 11}}
             }}
          ]
        },
        {
          "width": 578, "height": 416,
          "title": {"text": "c", "anchor": "start", "frame": "bounds", "baseline": "alphabetic", "offset": -38, "dx": 0, "dy": 0},
          "data": {"name": "C"},
          "encoding": {
            "x": {"field": "x", "type": "quantitative", "scale": {"domain": [4.315, 6.49], "nice": false, "zero": false}, "axis": {"title": "Minikowski patch width (m)", "values": [4.5, 5, 5.5, 6], "labelExpr": "replace(format(datum.value, '.1f'), '.', ',')", "labelPadding": 10, "titlePadding": 11}},
            "y": {"field": "y", "type": "quantitative", "scale": {"domain": [-350, 0], "nice": false, "zero": false}, "axis": {"title": "Reflection phase (Degree)", "values": [0, -50, -100, -150, -200, -250, -300, -350], "labelPadding": 10, "titlePadding": 15}}
          },
          "layer": [
            {"transform": [{"filter": "indexof(datum.s, 'CST') == 0"}], "mark": {"type": "line", "interpolate": "monotone", "strokeWidth": 2.4},
             "encoding": {
               "color": {"field": "s", "type": "nominal", "scale": {"domain": ["CST_h=1.5","MLP_h=1.5","CST_h=2","MLP_h=2","CST_h=2.5","MLP_h=2.5","CST_h=3","MLP_h=3","~"], "range": ["#5ccc5c","#128a12","#ee3a3a","#8b1a1a","#80dede","#3a4abb","#cc4ccc","#7a1a8a","#000000"]},
                 "legend": {"values": ["CST_h=1.5","MLP_h=1.5","CST_h=2","MLP_h=2","CST_h=2.5","MLP_h=2.5","CST_h=3","MLP_h=3"], "orient": "none", "legendX": 404, "legendY": 10, "title": null, "symbolType": "M-6.8,0H6.8", "symbolSize": 36, "symbolStrokeWidth": 3.2, "symbolOffset": 9, "labelOffset": 17, "labelFontSize": 17, "labelFontStyle": "italic", "rowPadding": 4.2, "padding": 12, "strokeColor": "#777", "fillColor": "white"}},
               "strokeDash": {"field": "s", "type": "nominal", "scale": {"domain": ["CST_h=1.5","MLP_h=1.5","CST_h=2","MLP_h=2","CST_h=2.5","MLP_h=2.5","CST_h=3","MLP_h=3","~"], "range": [[1,0],[3.5,3.5],[1,0],[3.5,3.5],[1,0],[3.5,3.5],[1,0],[3.5,3.5],[1,0]]},
                 "legend": {"values": ["CST_h=1.5","MLP_h=1.5","CST_h=2","MLP_h=2","CST_h=2.5","MLP_h=2.5","CST_h=3","MLP_h=3"], "orient": "none", "legendX": 404, "legendY": 10, "title": null, "symbolType": "M-6.8,0H6.8", "symbolSize": 36, "symbolStrokeWidth": 3.2, "symbolOffset": 9, "labelOffset": 17, "labelFontSize": 17, "labelFontStyle": "italic", "rowPadding": 4.2, "padding": 12, "strokeColor": "#777", "fillColor": "white"}}
             }},
            {"transform": [{"filter": "indexof(datum.s, 'MLP') == 0"}], "mark": {"type": "line", "interpolate": "monotone", "strokeWidth": 4.2},
             "encoding": {
               "color": {"field": "s", "type": "nominal"},
               "strokeDash": {"field": "s", "type": "nominal"}
             }},
            {"transform": [{"filter": "datum.m == 1"}], "mark": {"type": "point", "filled": true, "size": 75, "strokeWidth": 1.5, "opacity": 1},
             "encoding": {
               "shape": {"field": "s", "type": "nominal", "scale": {"domain": ["CST_h=1.5","MLP_h=1.5","CST_h=2","MLP_h=2","CST_h=2.5","MLP_h=2.5","CST_h=3","MLP_h=3"], "range": ["circle","circle","square","square","triangle-up","triangle-up","diamond","diamond"]},
                 "legend": {"orient": "none", "legendX": 404, "legendY": 10, "title": null, "symbolSize": 75, "symbolStrokeWidth": 1.5, "symbolOffset": 9, "labelOffset": 17, "labelFontSize": 17, "labelFontStyle": "italic", "labelOpacity": 0, "rowPadding": 4.2, "padding": 12}},
               "fill": {"field": "s", "type": "nominal", "scale": {"domain": ["CST_h=1.5","MLP_h=1.5","CST_h=2","MLP_h=2","CST_h=2.5","MLP_h=2.5","CST_h=3","MLP_h=3"], "range": ["#5ccc5c","#128a12","#ee3a3a","#8b1a1a","#80dede","#3a4abb","#cc4ccc","#7a1a8a"]},
                 "legend": {"orient": "none", "legendX": 404, "legendY": 10, "title": null, "symbolSize": 75, "symbolStrokeWidth": 1.5, "symbolOffset": 9, "labelOffset": 17, "labelFontSize": 17, "labelFontStyle": "italic", "labelOpacity": 0, "rowPadding": 4.2, "padding": 12}},
               "stroke": {"field": "s", "type": "nominal", "scale": {"domain": ["CST_h=1.5","MLP_h=1.5","CST_h=2","MLP_h=2","CST_h=2.5","MLP_h=2.5","CST_h=3","MLP_h=3"], "range": ["#4cbc4c","#0a7a0a","#dd2a2a","#7b0a0a","#70cece","#2a3aab","#bc3cbc","#6a0a7a"]},
                 "legend": {"orient": "none", "legendX": 404, "legendY": 10, "title": null, "symbolSize": 75, "symbolStrokeWidth": 1.5, "symbolOffset": 9, "labelOffset": 17, "labelFontSize": 17, "labelFontStyle": "italic", "labelOpacity": 0, "rowPadding": 4.2, "padding": 12}}
             }}
          ]
        }
      ]
    }
  ]
}
